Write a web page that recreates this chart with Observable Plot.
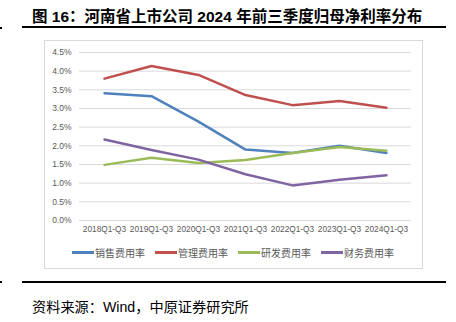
<!DOCTYPE html>
<html><head><meta charset="utf-8">
<script src="https://cdn.jsdelivr.net/npm/d3@7"></script>
<script src="https://cdn.jsdelivr.net/npm/@observablehq/plot@0.6"></script>
<style>
body{margin:0;width:456px;height:322px;position:relative;background:#fff;font-family:"Liberation Sans","Noto Sans CJK SC",sans-serif;overflow:hidden}
#title{position:absolute;left:32px;top:4px;font-size:15.5px;font-weight:bold;color:#000;white-space:nowrap}
.rule{position:absolute;left:22px;width:424px;height:2px;background:#000}
.dot{position:absolute;left:0;width:2px;height:2px;background:#000}
#box{position:absolute;left:44px;top:40px;width:377px;height:227px;border:1px solid #d9d9d9}
#chart{position:absolute;left:44px;top:40px}
#legend{position:absolute;left:44px;top:245px;width:378px;display:flex;justify-content:center;gap:10px;font-size:10px;color:#595959;font-family:"Noto Sans CJK SC",sans-serif}
#legend span{display:flex;align-items:center}
#legend i{display:inline-block;width:22px;height:2.5px;margin-right:1px}
#source{position:absolute;left:32px;top:296px;font-size:14.2px;color:#000;white-space:nowrap}
</style></head>
<body>
<div id="title">图 16：河南省上市公司 2024 年前三季度归母净利率分布</div>
<div class="dot" style="top:27px"></div>
<div class="rule" style="top:26px"></div>
<div id="box"></div>
<div id="chart"></div>
<div id="legend"></div>
<div class="dot" style="top:281px"></div>
<div class="rule" style="top:281px"></div>
<div id="source">资料来源：Wind，中原证券研究所</div>
<script>
const periods = ["2018Q1-Q3","2019Q1-Q3","2020Q1-Q3","2021Q1-Q3","2022Q1-Q3","2023Q1-Q3","2024Q1-Q3"];
const seriesNames = ["销售费用率","管理费用率","研发费用率","财务费用率"];
const seriesColors = ["#4F81BD","#C0504D","#9BBB59","#8064A2"];
const sales = [3.41,3.33,2.65,1.90,1.81,2.00,1.81];
const admin = [3.80,4.14,3.90,3.36,3.09,3.20,3.02];
const rnd = [1.49,1.68,1.54,1.62,1.81,1.97,1.87];
const finance = [2.17,1.89,1.63,1.24,0.94,1.09,1.21];
const yTicks = [0,0.5,1,1.5,2,2.5,3,3.5,4,4.5];

const all = [sales, admin, rnd, finance];
const data = [];
all.forEach((arr, si) => arr.forEach((v, i) => data.push({period: periods[i], series: seriesNames[si], value: v / 100})));

const chart = Plot.plot({
  width: 378,
  height: 200,
  marginTop: 12,
  marginBottom: 20,
  marginLeft: 35,
  marginRight: 11,
  style: {fontSize: "8.5px", fontFamily: "Liberation Sans, sans-serif", color: "#595959", background: "transparent"},
  x: {type: "point", domain: periods, padding: 0.5, label: null},
  y: {domain: [0, 0.045], ticks: yTicks.map(t => t / 100), tickFormat: d3.format(".1%"), label: null},
  color: {domain: seriesNames, range: seriesColors},
  marks: [
    Plot.gridY(yTicks.map(t => t / 100), {stroke: "#d9d9d9", strokeOpacity: 1, strokeWidth: 1}),
    Plot.axisY({ticks: yTicks.map(t => t / 100), tickFormat: d3.format(".1%"), tickSize: 0, tickPadding: 8, label: null, fill: "#595959"}),
    Plot.axisX({tickSize: 0, tickPadding: 6, label: null, fill: "#595959", fontSize: "8.3px"}),
    Plot.line(data, {x: "period", y: "value", z: "series", stroke: "series", strokeWidth: 2.5})
  ]
});
document.getElementById("chart").appendChild(chart);

const lg = document.getElementById("legend");
seriesNames.forEach((n, i) => {
  const s = document.createElement("span");
  s.innerHTML = `<i style="background:${seriesColors[i]}"></i>${n}`;
  lg.appendChild(s);
});
</script>
</body></html>
